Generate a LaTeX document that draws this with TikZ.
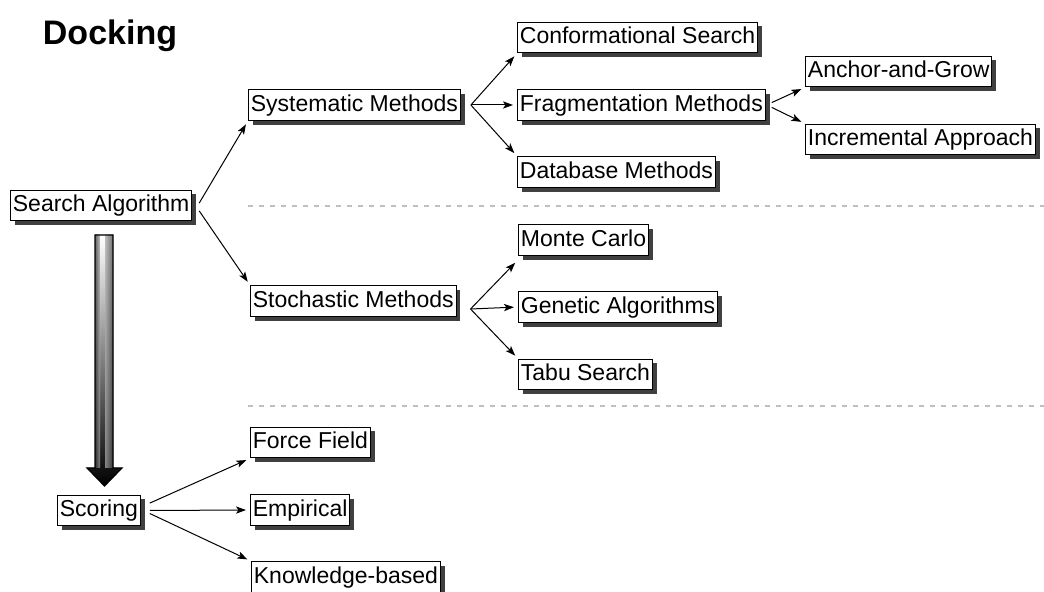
\documentclass[tikz,border=0pt]{standalone}
\usepackage{fontspec}
\setmainfont{Liberation Sans}
\usetikzlibrary{arrows.meta,shadows}

\begin{document}
\begin{tikzpicture}[x=0.5pt,y=-0.5pt,
  method/.style={rectangle,draw,line width=0.5pt,fill=white,anchor=west,
    inner xsep=1.2pt,inner ysep=2.2pt,text height=8.6pt,text depth=2.4pt,
    font=\fontsize{11.5}{13}\selectfont,
    drop shadow={shadow xshift=2.2pt,shadow yshift=-2.2pt,fill=black!75,opacity=1}},
  link/.style={-{Stealth[length=5pt,width=3.6pt,inset=1.2pt]},line width=0.5pt,shorten >=2pt},
  divider/.style={black!25,line width=0.6pt,dash pattern=on 2.5pt off 3pt}]
\clip (0,0) rectangle (1044,592);

\node[font=\bfseries\fontsize{17}{20}\selectfont,anchor=base] (title) at (110,45) {Docking};

% Search algorithm
\node[method] (search) at (10,205.5) {Search Algorithm};
\node[method] (sys) at (248,105) {Systematic Methods};
\node[method] (sto) at (250,301) {Stochastic Methods};
\node[method] (conf) at (517,37.5) {Conformational Search};
\node[method] (frag) at (517,105) {Fragmentation Methods};
\node[method] (db) at (517,172) {Database Methods};
\node[method] (anchor) at (805,71.5) {Anchor-and-Grow};
\node[method] (incr) at (805,139.5) {Incremental Approach};
\node[method] (monte) at (518,240) {Monte Carlo};
\node[method] (genetic) at (518,307) {Genetic Algorithms};
\node[method] (tabu) at (518,374.5) {Tabu Search};

% Scoring
\node[method] (scoring) at (57,510.5) {Scoring};
\node[method] (force) at (250,442.5) {Force Field};
\node[method] (empirical) at (250,510) {Empirical};
\node[method] (knowledge) at (251,577) {Knowledge-based};

\draw[divider] (248,206) -- (1044,206);
\draw[divider] (248,406) -- (1044,406);

\draw[link] ([xshift=3.5pt,yshift=1.2pt]search.east) -- (sys.south west);
\draw[link] ([xshift=3.5pt,yshift=-2.7pt]search.east) -- (sto.north west);
\draw[link] ([xshift=5pt]sys.east) -- (conf.south west);
\draw[link] ([xshift=5pt]sys.east) -- (frag.west);
\draw[link] ([xshift=5pt]sys.east) -- (db.north west);
\draw[link] ([xshift=3pt,yshift=1.2pt]frag.east) -- (anchor.south west);
\draw[link] ([xshift=3pt,yshift=-1.2pt]frag.east) -- (incr.north west);
\draw[link] ([xshift=7pt,yshift=-4pt]sto.east) -- ([yshift=-2pt]monte.south west);
\draw[link] ([xshift=7pt,yshift=-4pt]sto.east) -- (genetic.west);
\draw[link] ([xshift=7pt,yshift=-4pt]sto.east) -- (tabu.north west);
\draw[link] ([xshift=4.5pt,yshift=3.7pt]scoring.east) -- (force.south west);
\draw[link] ([xshift=4.5pt]scoring.east) -- (empirical.west);
\draw[link] ([xshift=4.5pt,yshift=-1.5pt]scoring.east) -- (knowledge.north west);

% Big arrow from search to scoring
\fill[top color=white,middle color=black!35,bottom color=black]
  (95,235) -- (113,235) -- (113,468) -- (122,468) -- (104.5,486)
  -- (87,468) -- (95,468) -- cycle;
\fill[left color=black!70,right color=white,fill opacity=0.5]
  (95,235) rectangle (100,468);
\fill[left color=white,right color=black!60,fill opacity=0.5]
  (105,235) rectangle (113,468);
\draw[line width=0.6pt,line join=miter]
  (95,235) -- (113,235) -- (113,468) -- (122,468) -- (104.5,486)
  -- (87,468) -- (95,468) -- cycle;
\end{tikzpicture}
\end{document}
